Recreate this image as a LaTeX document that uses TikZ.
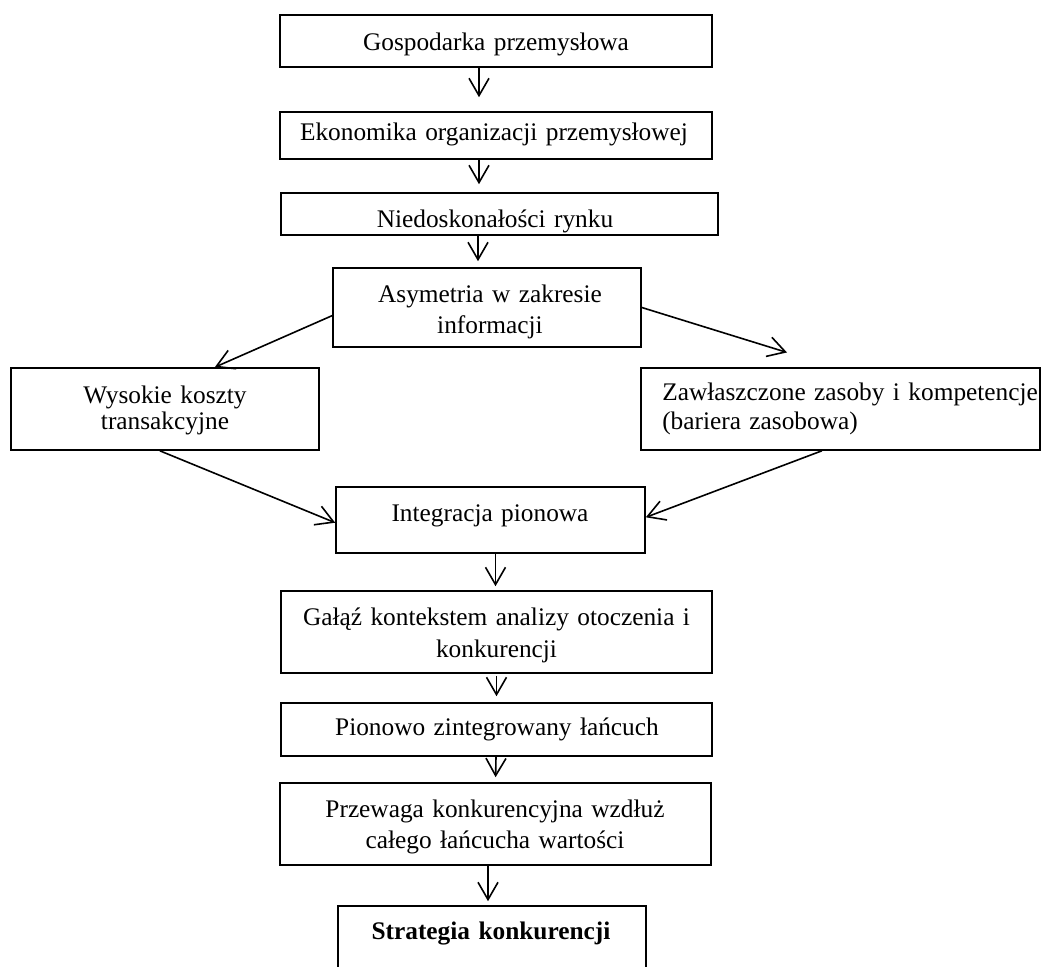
\documentclass[tikz,border=0pt]{standalone}
\usepackage{fontspec}
\setmainfont{Liberation Serif}
\usetikzlibrary{arrows.meta,fit}
\begin{document}
\begin{tikzpicture}[x=0.75pt,y=-0.75pt,
  box/.style={draw=black, line width=1.2pt, inner sep=0pt, fit={#1}},
  txt/.style={anchor=base, inner sep=0pt, text width=330pt, align=center,
              font=\fontsize{19}{23.25}\selectfont},
  txtl/.style={anchor=base west, inner sep=0pt, text width=300pt, align=left,
               font=\fontsize{19}{21.75}\selectfont},
  arr/.style={draw=black, line width=1.2pt, -{Straight Barb[length=13pt,width=15pt]}}]
\useasboundingbox (0,0) rectangle (1042,967);

% boxes
\node[box={(280,15) (712,67)}]    (b1)  {};
\node[box={(280,112) (712,159)}]  (b2)  {};
\node[box={(281,193) (718,235)}]  (b3)  {};
\node[box={(333,268) (641,347)}]  (b4)  {};
\node[box={(11,368) (319,450)}]   (b5)  {};
\node[box={(641,368) (1040,450)}] (b6)  {};
\node[box={(336,487) (645,553)}]  (b7)  {};
\node[box={(281,591) (712,673)}]  (b8)  {};
\node[box={(281,703) (712,756)}]  (b9)  {};
\node[box={(280,783) (711,865)}]  (b10) {};
\node[box={(338,906) (646,995)}]  (b11) {};

% labels
\node[txt] (t1) at (496,50) {Gospodarka przemysłowa};
\node[txt] (t2) at (494,140) {Ekonomika organizacji przemysłowej};
\node[txt] (t3) at (495,227) {Niedoskonałości rynku};
\node[txt] (t4) at (490,302) {Asymetria w zakresie\\informacji};
\node[txt, font=\fontsize{19}{19.9}\selectfont] (t5) at (165,403) {Wysokie koszty\\transakcyjne};
\node[txtl] (t6) at (662,400) {Zawłaszczone zasoby i kompetencje\\(bariera zasobowa)};
\node[txt] (t7) at (490,521) {Integracja pionowa};
\node[txt, font=\fontsize{19}{24}\selectfont] (t8) at (496.5,625) {Gałąź kontekstem analizy otoczenia i\\konkurencji};
\node[txt] (t9) at (497,735) {Pionowo zintegrowany łańcuch};
\node[txt] (t10) at (495,817) {Przewaga konkurencyjna wzdłuż\\całego łańcucha wartości};
\node[txt] (t11) at (491,939) {\textbf{Strategia konkurencji}};

% vertical connectors
\draw[arr, shorten >=10.5pt] ([xshift=-12.75pt]b1.south) -- ([xshift=-12.75pt]b2.north);
\draw[arr, shorten >=6pt] ([xshift=-12.75pt]b2.south) -- ([xshift=-15.375pt]b3.north);
\draw[arr, shorten >=4.5pt] ([xshift=-16.125pt]b3.south) -- ([xshift=-6.75pt]b4.north);
\draw[arr, shorten >=3pt] ([xshift=3.75pt]b7.south) -- ([xshift=-0.75pt]b8.north);
\draw[arr, shorten <=1.5pt, shorten >=4.5pt] (b8.south) -- (b9.north);
\draw[arr, shorten >=3.75pt] ([xshift=-0.375pt]b9.south) -- (b10.north);
\draw[arr, shorten >=3pt] ([xshift=-5.625pt]b10.south) -- ([xshift=-3pt]b11.north);

% diagonal connectors
\draw[arr] (b4.183.5) -- (b5.40.5);
\draw[arr, shorten >=37.4pt] (b4.0.6) -- (b6.98.2);
\draw[arr] (b5.263) -- (b7.181.8);
\draw[arr] (b6.246.9) -- (b7.1.1);
\end{tikzpicture}
\end{document}
